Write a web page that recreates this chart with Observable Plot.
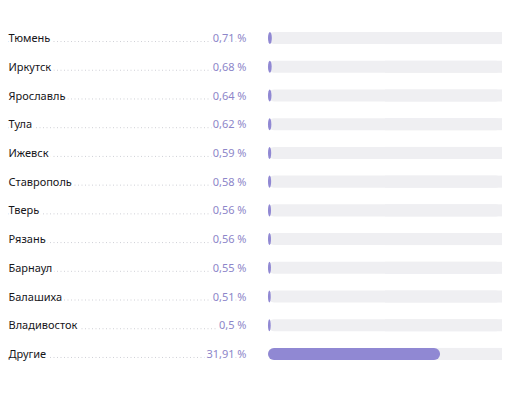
<!DOCTYPE html>
<html>
<head>
<meta charset="utf-8">
<script src="https://cdn.jsdelivr.net/npm/d3@7"></script>
<script src="https://cdn.jsdelivr.net/npm/@observablehq/plot@0.6"></script>
<style>
  html, body { margin: 0; padding: 0; background: #ffffff; }
  #chart { width: 512px; height: 394px; }
</style>
</head>
<body>
<div id="chart"></div>
<script>
const cities = ["Тюмень", "Иркутск", "Ярославль", "Тула", "Ижевск", "Ставрополь", "Тверь", "Рязань", "Барнаул", "Балашиха", "Владивосток", "Другие"];
const shares = [0.71, 0.68, 0.64, 0.62, 0.59, 0.58, 0.56, 0.56, 0.55, 0.51, 0.5, 31.91];
const trackMax = 43.4;

const data = cities.map((c, i) => ({city: c, value: shares[i]}));
const fmt = v => String(v).replace(".", ",") + " %";
const font = "'Noto Sans', 'Open Sans', sans-serif";

const chart = Plot.plot({
  width: 512,
  height: 394,
  marginLeft: 268,
  marginRight: 10,
  marginTop: 32,
  marginBottom: 34,
  style: {fontFamily: font, background: "#ffffff"},
  x: {domain: [0, trackMax], axis: null},
  y: {domain: cities, axis: null, paddingInner: 0.58, paddingOuter: 0, round: false},
  marks: [
    Plot.ruleY(data, {
      y: "city", stroke: "#cfd0d6", strokeWidth: 1, strokeDasharray: "1,2.5",
      insetLeft: -260, insetRight: 258, dy: 3
    }),
    Plot.barX(data, {x1: 0, x2: trackMax, y: "city", fill: "#efeff2", rx: 6}),
    Plot.barX(data, {x1: trackMax / 2, x2: trackMax, y: "city", fill: "#efeff2"}),
    Plot.barX(data, {x1: 0, x2: "value", y: "city", fill: "#9088d3", rx: 6}),
    Plot.text(data, {
      y: "city", text: "city", frameAnchor: "left", textAnchor: "start", dx: -260,
      fill: "#16161a", fontSize: 11, stroke: "white", strokeWidth: 5, paintOrder: "stroke"
    }),
    Plot.text(data, {
      y: "city", text: d => fmt(d.value), frameAnchor: "left", textAnchor: "end", dx: -22,
      fill: "#8d86c9", fontSize: 11, stroke: "white", strokeWidth: 5, paintOrder: "stroke"
    })
  ]
});
document.getElementById("chart").appendChild(chart);
</script>
</body>
</html>
